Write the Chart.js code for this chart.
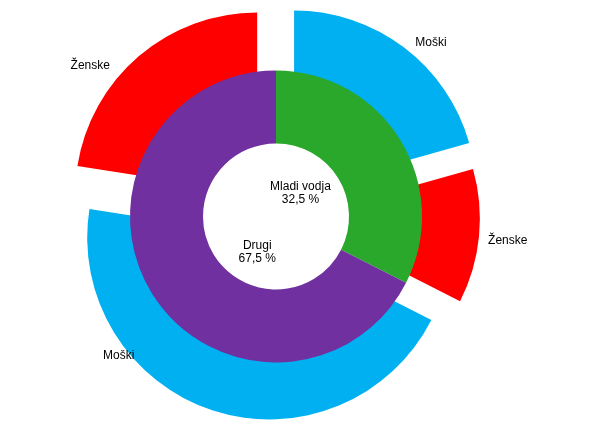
<!DOCTYPE html>
<html>
<head>
<meta charset="utf-8">
<script src="https://cdn.jsdelivr.net/npm/chart.js@4.4.0/dist/chart.umd.min.js"></script>
<style>
  body { margin: 0; background: #fff; }
  #wrap { position: relative; width: 594px; height: 422px; }
  #wrap canvas { position: absolute; left: 0; top: 0; }
</style>
</head>
<body>
<div id="wrap">
  <canvas id="outerChart" width="594" height="422"></canvas>
  <canvas id="innerChart" width="594" height="422"></canvas>
</div>
<script>
// inner ring: young leader vs the rest
const groups = ['Mladi vodja', 'Drugi'];
const groupShare = [32.5, 67.5];
// outer ring: gender split inside each group (share of the whole)
const genderLabels = ['Moški', 'Ženske', 'Moški', 'Ženske'];
const genderShare = [20.6, 11.9, 45.0, 22.5];

const groupColors = ['#2aa82c', '#7030a0'];
const genderColors = ['#00b0f0', '#ff0000', '#00b0f0', '#ff0000'];
// how far each outer slice is pulled out (px)
const explode = [30, 22, 22, 29];

// label placement around the centre: [angle from top in deg, distance px]
const groupLabelPos = [[46, 34], [208, 40]];
const genderLabelPos = [[41.7, 233], [95.9, 233], [228.5, 210], [309, 239]];

const FONT = '12px "Liberation Sans", Arial, sans-serif';
const pad = { left: 0, right: 42, top: 11, bottom: 0 };

function fmtPct(v) {
  return v.toFixed(1).replace('.', ',') + ' %';
}

// push slices out along their middle angle
function explodePlugin(dist) {
  function shift(args, sign) {
    args.meta.data.forEach((arc, i) => {
      const mid = (arc.startAngle + arc.endAngle) / 2;
      arc.x += sign * Math.cos(mid) * dist[i];
      arc.y += sign * Math.sin(mid) * dist[i];
    });
  }
  return {
    id: 'explode',
    beforeDatasetDraw(chart, args) { shift(args, 1); },
    afterDatasetDraw(chart, args) { shift(args, -1); }
  };
}

function polar(cx, cy, p) {
  const a = p[0] * Math.PI / 180;
  return [cx + p[1] * Math.sin(a), cy - p[1] * Math.cos(a)];
}

const labelPlugin = {
  id: 'ringLabels',
  afterDraw(chart) {
    const arc = chart.getDatasetMeta(0).data[0];
    const cx = arc.x, cy = arc.y;
    const ctx = chart.ctx;
    ctx.save();
    ctx.font = FONT;
    ctx.fillStyle = '#000';
    ctx.textAlign = 'center';
    ctx.textBaseline = 'middle';
    groups.forEach((g, i) => {
      const [x, y] = polar(cx, cy, groupLabelPos[i]);
      ctx.fillText(g, x, y - 6.5);
      ctx.fillText(fmtPct(groupShare[i]), x, y + 7);
    });
    genderLabels.forEach((g, i) => {
      const [x, y] = polar(cx, cy, genderLabelPos[i]);
      ctx.fillText(g, x, y);
    });
    ctx.restore();
  }
};

const baseOptions = {
  responsive: false,
  animation: false,
  layout: { padding: pad },
  plugins: { legend: { display: false }, tooltip: { enabled: false } }
};

new Chart(document.getElementById('outerChart'), {
  type: 'doughnut',
  data: {
    labels: genderLabels,
    datasets: [{
      data: genderShare,
      backgroundColor: genderColors,
      borderWidth: 0
    }]
  },
  options: Object.assign({}, baseOptions, { radius: 182, cutout: '60%' }),
  plugins: [explodePlugin(explode)]
});

new Chart(document.getElementById('innerChart'), {
  type: 'doughnut',
  data: {
    labels: groups,
    datasets: [{
      data: groupShare,
      backgroundColor: groupColors,
      borderWidth: 0
    }]
  },
  options: Object.assign({}, baseOptions, { radius: 146, cutout: '50%' }),
  plugins: [labelPlugin]
});
</script>
</body>
</html>
